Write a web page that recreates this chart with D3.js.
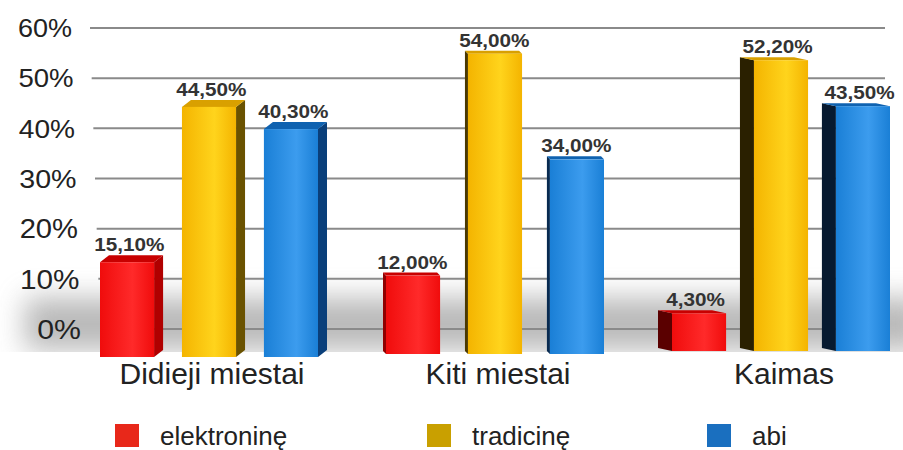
<!DOCTYPE html>
<html><head><meta charset="utf-8">
<script src="https://cdn.jsdelivr.net/npm/d3@7/dist/d3.min.js"></script>
<style>body{margin:0;background:#fff}svg{display:block}</style>
</head><body>
<svg id="c" width="903" height="450"></svg>
<script>
const categories = ["Didieji miestai", "Kiti miestai", "Kaimas"];
const seriesNames = ["elektroninę", "tradicinę", "abi"];
const elektronine = [15.1, 12.0, 4.3];
const tradicine = [44.5, 54.0, 52.2];
const abi = [40.3, 34.0, 43.5];
const valueLabels = [["15,10%","44,50%","40,30%"],["12,00%","54,00%","34,00%"],["4,30%","52,20%","43,50%"]];
const yTicks = [0, 10, 20, 30, 40, 50, 60];

const series = [elektronine, tradicine, abi];
const front = ["#f00c0c", "#f4b400", "#1a7fd6"];
const frontHi = ["#ff2a2a", "#ffd41c", "#3c9cee"];
const sideCol = [["#b00000","#6a5200","#0a3f7a"],["#900000","#4a3800","#082a50"],["#5a0000","#2a2000","#071a30"]];
const topCol = ["#c80000", "#d9a000", "#0f62b0"];
const legendCol = ["#e8281a", "#c9a000", "#1a6fbf"];
const FONT = "Liberation Sans, Arial, sans-serif";

const svg = d3.select("#c");
const defs = svg.append("defs");
defs.append("filter").attr("id","blur").attr("x","-20%").attr("y","-100%").attr("width","140%").attr("height","300%")
  .append("feGaussianBlur").attr("stdDeviation", 14);
series.forEach((s,i)=>{
  const g = defs.append("linearGradient").attr("id","g"+i).attr("x1","0").attr("x2","1");
  g.append("stop").attr("offset","0").attr("stop-color",front[i]);
  g.append("stop").attr("offset","0.6").attr("stop-color",frontHi[i]);
  g.append("stop").attr("offset","1").attr("stop-color",front[i]);
});

// gridline scale
const y = d3.scaleLinear().domain([0, 60]).range([329, 28]);
// bar height scale (3D perspective: bars stand in front of the grid)
const hBar = d3.scaleLinear().domain([0, 60]).range([15, 332]);
const groupBase = [357, 354, 351];

const x0 = d3.scaleBand().domain(categories).range([100, 958]).paddingInner(0);
const x1 = d3.scaleBand().domain(seriesNames).range([0, 218]).paddingInner(0.34);

// floor shadow
svg.append("rect").attr("x", 25).attr("y", 298).attr("width", 900).attr("height", 52)
  .attr("fill", "#8a8a8a").attr("opacity", 0.6).attr("filter","url(#blur)");
svg.append("rect").attr("x", 0).attr("y", 352).attr("width", 903).attr("height", 60).attr("fill","#fff");

// gridlines
const depth = d => (60 - d) / 60;
svg.append("g").selectAll("line").data(yTicks).join("line")
  .attr("x1", d => 90 + depth(d) * 10).attr("x2", 885)
  .attr("y1", d => y(d)).attr("y2", d => y(d))
  .attr("stroke", "#8a8a8a").attr("stroke-width", 2);

// y axis labels
svg.append("g").selectAll("text").data(yTicks).join("text")
  .attr("transform", d => `translate(${72 + depth(d) * 9},${y(d) + 9 + depth(d)}) scale(1.08,1)`)
  .attr("text-anchor", "end")
  .attr("font-family", FONT).attr("font-size", d => 25 + depth(d) * 3)
  .attr("fill", "#222").text(d => d + "%");

// bars
const sideDx = [9, -3, -14];
const topDy = [-7, -3, -3];
const gBars = svg.append("g");
categories.forEach((cat, ci) => {
  seriesNames.forEach((sn, si) => {
    const v = series[si][ci];
    const xl = x0(cat) + x1(sn), xr = xl + x1.bandwidth();
    const yb = groupBase[ci], yt = yb - hBar(v);
    const dx = sideDx[ci], dy = topDy[ci];
    if (dx > 0) {
      gBars.append("path").attr("d", `M${xr},${yt} L${xr+dx},${yt+dy} L${xr+dx},${yb+dy} L${xr},${yb} Z`).attr("fill", sideCol[ci][si]);
    } else {
      gBars.append("path").attr("d", `M${xl},${yt} L${xl+dx},${yt+dy} L${xl+dx},${yb+dy} L${xl},${yb} Z`).attr("fill", sideCol[ci][si]);
    }
    gBars.append("path").attr("d", `M${xl},${yt} L${xl+dx},${yt+dy} L${xr+dx},${yt+dy} L${xr},${yt} Z`).attr("fill", topCol[si]);
    gBars.append("rect").attr("x", xl).attr("y", yt).attr("width", xr - xl).attr("height", yb - yt)
      .attr("fill", `url(#g${si})`);
    gBars.append("text")
      .attr("transform", `translate(${(xl + xr)/2 + dx/4},${yt + Math.min(dy, -3) - 4}) scale(1.15,1)`)
      .attr("text-anchor","middle").attr("font-family", FONT)
      .attr("font-weight","bold").attr("font-size", 18).attr("fill","#333")
      .text(valueLabels[ci][si]);
  });
});

// category labels
svg.append("g").selectAll("text").data(categories).join("text")
  .attr("x", d => x0(d) + x1.range()[1]/2 + 3).attr("y", 384)
  .attr("text-anchor","middle").attr("font-family", FONT)
  .attr("font-size", 30).attr("fill","#222").text(d => d);

// legend
const legX = [115, 427, 707];
const lg = svg.append("g").selectAll("g").data(seriesNames).join("g")
  .attr("transform", (d,i) => `translate(${legX[i]},424)`);
lg.append("rect").attr("width", 24).attr("height", 23).attr("fill", (d,i) => legendCol[i]);
lg.append("text").attr("x", 45).attr("y", 21)
  .attr("font-family", FONT)
  .attr("font-size", 26).attr("fill","#222").text(d => d);
</script>
</body></html>
